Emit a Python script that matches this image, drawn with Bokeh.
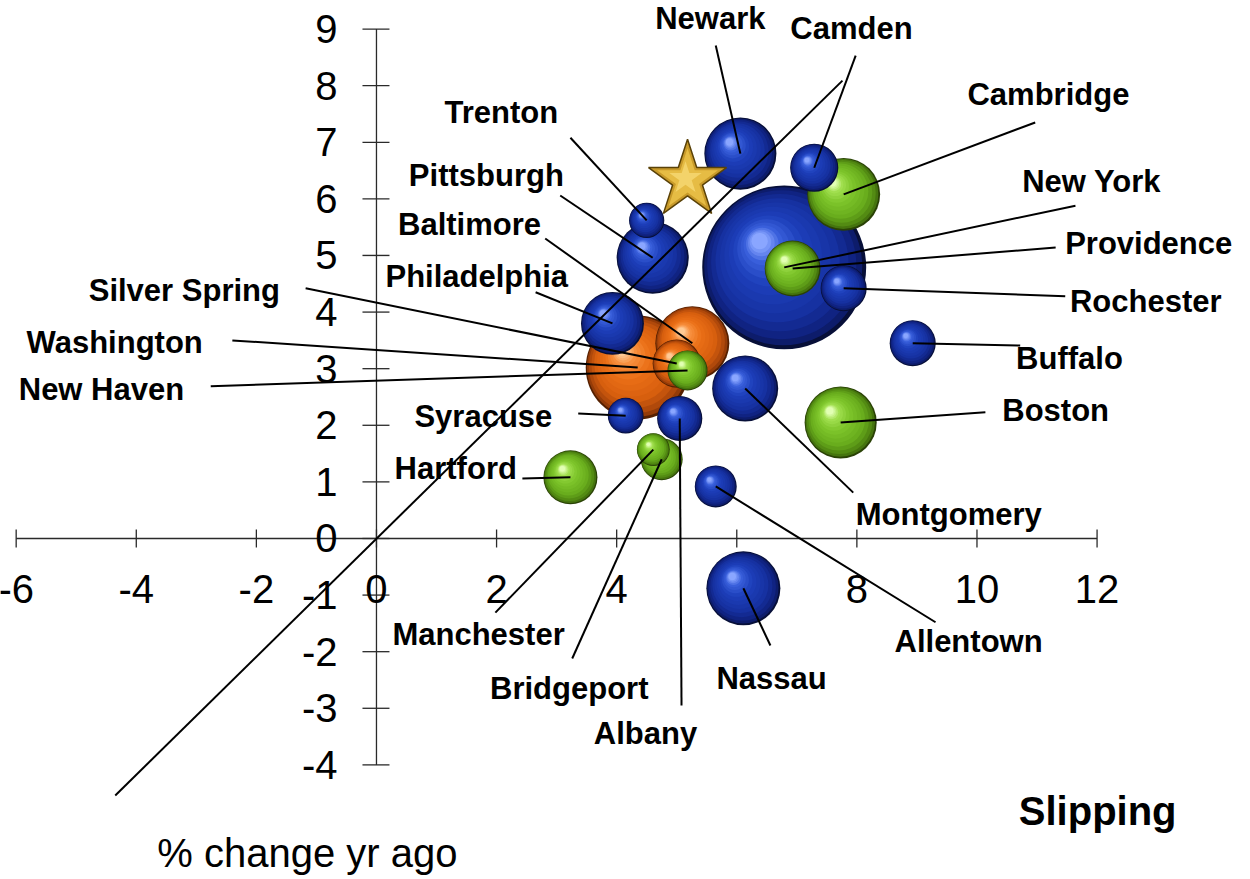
import math
from bokeh.plotting import figure
from bokeh.models import Range1d
from bokeh.embed import file_html
from bokeh.resources import INLINE
from bokeh.core.properties import value

# ---------------- data (drawing order: back to front) ----------------
CITIES = ["Washington", "Baltimore", "Silver Spring", "New Haven", "Philadelphia",
          "Syracuse", "Albany", "Montgomery", "New York", "Providence", "Rochester",
          "Cambridge", "Camden", "Newark", "Pittsburgh", "Trenton", "Bridgeport",
          "Manchester", "Hartford", "Allentown", "Nassau", "Buffalo", "Boston"]
X_VAL = [4.35, 5.26, 5.00, 5.18, 3.93, 4.15, 5.05, 6.14, 6.79, 6.93, 7.78,
         7.78, 7.29, 6.06, 4.60, 4.50, 4.75, 4.61, 3.23, 5.65, 6.11, 8.93, 7.73]
Y_VAL = [3.02, 3.45, 3.09, 2.97, 3.80, 2.17, 2.12, 2.65, 4.79, 4.77, 4.42,
         6.08, 6.55, 6.80, 4.96, 5.62, 1.40, 1.57, 1.08, 0.92, -0.88, 3.45, 2.05]
SIZE_VAL = [27.0, 13.7, 5.8, 4.0, 9.9, 3.2, 5.1, 10.9, 67.2, 7.8, 5.3,
            13.3, 5.8, 13.0, 13.0, 3.1, 4.4, 2.7, 7.3, 4.4, 13.7, 5.3, 13.0]
GROUP = ["orange", "orange", "orange", "green", "blue", "blue", "blue", "blue",
         "blue", "green", "blue", "green", "blue", "blue", "blue", "blue", "green",
         "green", "green", "blue", "blue", "blue", "green"]

STAR_X = [5.18]
STAR_Y = [6.33]

X_TICKS = [-6, -4, -2, 0, 2, 4, 6, 8, 10, 12]
Y_TICKS = [-4, -3, -2, -1, 0, 1, 2, 3, 4, 5, 6, 7, 8, 9]

DIAG_X = [-4.35, 7.76]
DIAG_Y = [-4.54, 8.09]

# label layout (data units): label centre and leader-line start
LABEL_POS = {
    "Newark": (5.56, 9.19, 5.65, 8.71),
    "Camden": (7.91, 9.01, 7.98, 8.53),
    "Cambridge": (11.19, 7.85, 10.97, 7.35),
    "New York": (11.91, 6.31, 11.64, 5.88),
    "Providence": (12.86, 5.21, 11.31, 5.14),
    "Rochester": (12.81, 4.18, 11.47, 4.28),
    "Buffalo": (11.54, 3.18, 10.72, 3.41),
    "Boston": (11.31, 2.26, 10.14, 2.23),
    "Montgomery": (9.53, 0.42, 7.94, 0.81),
    "Allentown": (9.86, -1.82, 9.31, -1.48),
    "Nassau": (6.58, -2.47, 6.56, -1.89),
    "Albany": (4.48, -3.45, 5.08, -2.95),
    "Bridgeport": (3.21, -2.65, 3.26, -2.12),
    "Manchester": (1.70, -1.70, 1.98, -1.31),
    "Hartford": (1.32, 1.24, 2.43, 1.06),
    "Syracuse": (1.78, 2.15, 3.36, 2.21),
    "New Haven": (-4.58, 2.63, -2.76, 2.69),
    "Washington": (-4.36, 3.46, -2.40, 3.50),
    "Silver Spring": (-3.20, 4.38, -1.18, 4.42),
    "Philadelphia": (1.67, 4.63, 2.65, 4.35),
    "Baltimore": (1.55, 5.55, 2.81, 5.30),
    "Pittsburgh": (1.83, 6.41, 3.06, 6.06),
    "Trenton": (2.08, 7.53, 3.23, 7.08),
}

# ---------------- geometry ----------------
W, H = 1250, 879
X_RANGE = (-6.261, 14.555)
Y_RANGE = (-6.025, 9.505)
PPX = W / (X_RANGE[1] - X_RANGE[0])
PPY = H / (Y_RANGE[1] - Y_RANGE[0])

FONT = value("Liberation Sans")

STOPS = {
    "blue": [(0.0, "#070f38"), (0.05, "#0e1f78"), (0.25, "#1630a0"),
             (0.6, "#1d3fba"), (0.85, "#3a60dc"), (1.0, "#8aa6ff")],
    "green": [(0.0, "#2a4206"), (0.05, "#4c8010"), (0.25, "#68ac1c"),
              (0.6, "#7fc62c"), (0.85, "#a2e050"), (1.0, "#e2ffb4")],
    "orange": [(0.0, "#562000"), (0.05, "#a4420a"), (0.25, "#d65e0e"),
               (0.6, "#eb6f16"), (0.85, "#f79040"), (1.0, "#ffcb96")],
}


def hex2rgb(h):
    return tuple(int(h[i:i + 2], 16) for i in (1, 3, 5))


def interp(stops, t):
    for (t0, c0), (t1, c1) in zip(stops[:-1], stops[1:]):
        if t0 <= t <= t1:
            f = 0 if t1 == t0 else (t - t0) / (t1 - t0)
            a, b = hex2rgb(c0), hex2rgb(c1)
            return "#%02x%02x%02x" % tuple(int(round(a[k] + (b[k] - a[k]) * f)) for k in range(3))
    return stops[-1][1]


LAYERS = [0, 0.04, 0.1, 0.18, 0.27, 0.36, 0.45, 0.54, 0.63, 0.71, 0.78,
          0.84, 0.89, 0.93, 0.965, 1.0]

sx, sy, ss, sc = [], [], [], []
for cx, cy, v, g in zip(X_VAL, Y_VAL, SIZE_VAL, GROUP):
    r = 10.0 * math.sqrt(v)          # bubble radius in px from its value
    hx, hy, rh = -0.30 * r, 0.32 * r, 0.10 * r
    for s in LAYERS:
        sx.append(cx + s * hx / PPX)
        sy.append(cy + s * hy / PPY)
        ss.append(2 * (r * (1 - s) + s * rh))
        sc.append(interp(STOPS[g], s))

p = figure(width=W, height=H, x_range=Range1d(*X_RANGE), y_range=Range1d(*Y_RANGE),
           output_backend="svg", toolbar_location=None, min_border=0,
           x_axis_type=None, y_axis_type=None)
p.outline_line_color = None
p.background_fill_color = "white"
p.border_fill_color = "white"

# ---- axes drawn at the origin ----
AX = "#2a2a2a"
p.segment(x0=[X_TICKS[0]], y0=[0], x1=[X_TICKS[-1]], y1=[0], line_color=AX, line_width=1.3)
p.segment(x0=[0], y0=[Y_TICKS[0]], x1=[0], y1=[Y_TICKS[-1]], line_color=AX, line_width=1.3)
p.segment(x0=X_TICKS, y0=[-9 / PPY] * len(X_TICKS), x1=X_TICKS, y1=[9 / PPY] * len(X_TICKS),
          line_color=AX, line_width=1.3)
p.segment(x0=[-14 / PPX] * len(Y_TICKS), y0=Y_TICKS, x1=[13 / PPX] * len(Y_TICKS), y1=Y_TICKS,
          line_color=AX, line_width=1.3)
p.text(x=X_TICKS, y=[-51 / PPY] * len(X_TICKS), text=[str(t) for t in X_TICKS],
       text_font=FONT, text_font_size="40px", text_align="center",
       text_baseline="middle", text_color="black")
p.text(x=[-39 / PPX] * len(Y_TICKS), y=Y_TICKS, text=[str(t) for t in Y_TICKS],
       text_font=FONT, text_font_size="40px", text_align="right",
       text_baseline="middle", text_color="black")

# ---- bubbles ----
p.scatter(x=sx, y=sy, size=ss, fill_color=sc, line_color=None, marker="circle")

# ---- star ----
p.scatter(x=STAR_X, y=STAR_Y, size=82, marker="star", fill_color="#c89a2a",
          line_color="#5a4208", line_width=1.5)
p.scatter(x=STAR_X, y=STAR_Y, size=64, marker="star", fill_color="#e6bc44", line_color=None)
p.scatter(x=[STAR_X[0] - 2 / PPX], y=[STAR_Y[0] + 2 / PPY], size=34, marker="star",
          fill_color="#f3d36a", line_color=None)

# ---- leaders & labels ----
lx0, ly0, lx1, ly1, tx, ty, tt = [], [], [], [], [], [], []
for c, cx, cy in zip(CITIES, X_VAL, Y_VAL):
    lx, ly, sx0, sy0 = LABEL_POS[c]
    lx0.append(sx0); ly0.append(sy0); lx1.append(cx); ly1.append(cy)
    tx.append(lx); ty.append(ly); tt.append(c)

p.segment(x0=lx0, y0=ly0, x1=lx1, y1=ly1, line_color="black", line_width=2)
p.line(x=DIAG_X, y=DIAG_Y, line_color="black", line_width=2)

p.text(x=tx, y=ty, text=tt, text_font=FONT, text_font_size="31px",
       text_font_style="bold", text_align="center", text_baseline="middle",
       text_color="black")

p.text(x=[12.01], y=[-4.823], text=["Slipping"], text_font=FONT, text_font_size="40px",
       text_font_style="bold", text_align="center", text_baseline="middle",
       text_color="black")
p.text(x=[-3.65], y=[-5.565], text=["% change  yr ago"], text_font=FONT,
       text_font_size="40px", text_align="left", text_baseline="middle",
       text_color="black")

open("out.html", "w").write(file_html(p, INLINE))
